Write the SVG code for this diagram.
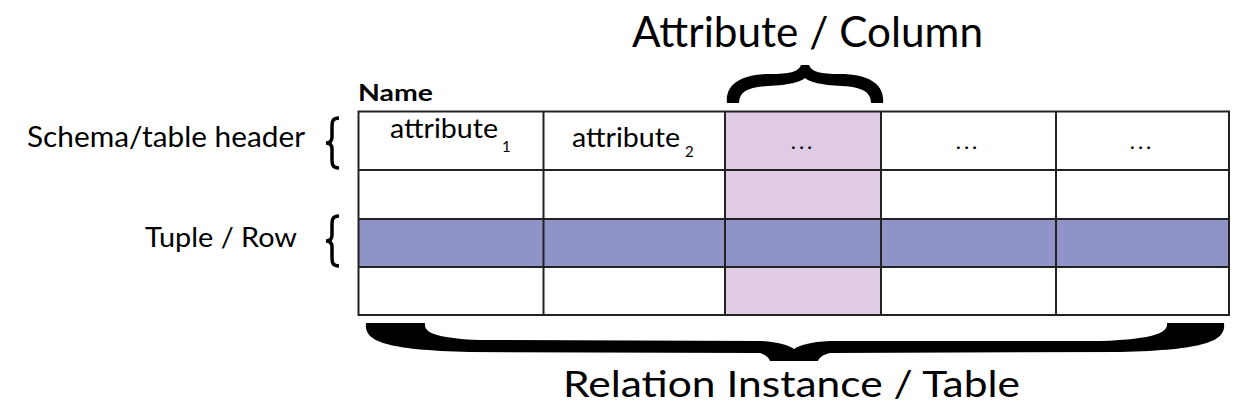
<svg xmlns="http://www.w3.org/2000/svg" width="1245" height="406" viewBox="0 0 1245 406">
<style>
.lbl{font-family:Lato,"Open Sans","Liberation Sans",sans-serif;fill:#000}
.grid{stroke:#222;stroke-width:2;fill:none}
.brace{fill:#000}
.sbrace{fill:none;stroke:#000;stroke-width:3.5}
</style>
<rect width="1245" height="406" fill="#fff"/>
<g id="table">
  <rect x="725" y="111.5" width="156" height="203.5" fill="#dfcbe4"/>
  <rect x="358.5" y="219" width="870.5" height="48" fill="#8f93c6"/>
  <g class="grid">
    <rect x="358.5" y="111.5" width="870.5" height="203.5"/>
    <line x1="358.5" y1="170" x2="1229" y2="170"/>
    <line x1="358.5" y1="219" x2="1229" y2="219"/>
    <line x1="358.5" y1="267" x2="1229" y2="267"/>
    <line x1="543.5" y1="111.5" x2="543.5" y2="315"/>
    <line x1="725" y1="111.5" x2="725" y2="315"/>
    <line x1="881" y1="111.5" x2="881" y2="315"/>
    <line x1="1056" y1="111.5" x2="1056" y2="315"/>
  </g>
  <text class="lbl" x="358" y="101" font-size="23" font-weight="bold" textLength="75" lengthAdjust="spacingAndGlyphs">Name</text>
  <text class="lbl" x="390" y="138" font-size="27" textLength="108" lengthAdjust="spacingAndGlyphs">attribute</text>
  <text class="lbl" x="502" y="152" font-size="15">1</text>
  <text class="lbl" x="572" y="147" font-size="27" textLength="108" lengthAdjust="spacingAndGlyphs">attribute</text>
  <text class="lbl" x="685" y="157" font-size="15">2</text>
  <text class="lbl" x="803" y="149" font-size="22" text-anchor="middle" letter-spacing="3">...</text>
  <text class="lbl" x="968" y="149" font-size="22" text-anchor="middle" letter-spacing="3">...</text>
  <text class="lbl" x="1142" y="149" font-size="22" text-anchor="middle" letter-spacing="3">...</text>
</g>
<g id="column-label">
  <path class="brace" d="M727 103 C725 85 740 74 770 74 C790 74 798 72 801 65 L809 65 C812 72 820 74 840 74 C870 74 885 85 883 103 L871 103 C871 92 862 87 842 86 C820 85 810 82 805 78 C800 82 790 85 768 86 C748 87 739 92 739 103 Z"/>
  <text class="lbl" x="632" y="47" font-size="42" textLength="351" lengthAdjust="spacingAndGlyphs">Attribute / Column</text>
</g>
<g id="table-label">
  <path class="brace" d="M366 323 C364 340 380 350 470 352 L760 353 C766 355 769 358 770 361 L818 361 C819 358 822 355 830 353 L1120 352 C1210 350 1226 340 1224 323 L1167 323 C1168 331 1160 339 1100 341 L830 341 C810 342 800 345 794 349 C788 345 778 342 760 341 L480 340 C430 338 424 331 425 323 Z"/>
  <text class="lbl" x="563" y="397" font-size="37" textLength="457" lengthAdjust="spacingAndGlyphs">Relation Instance / Table</text>
</g>
<g id="schema-label">
  <path class="sbrace" d="M339 118 C332 118 332 122 332 128 L332 137 C332 141 330 143 326 143 C330 143 332 145 332 149 L332 158 C332 164 332 168 339 168"/>
  <text class="lbl" x="27" y="147" font-size="28" textLength="278" lengthAdjust="spacingAndGlyphs">Schema/table header</text>
</g>
<g id="row-label">
  <path class="sbrace" d="M339 216 C332 216 332 220 332 226 L332 235 C332 239 330 241 326 241 C330 241 332 243 332 247 L332 256 C332 262 332 266 339 266"/>
  <text class="lbl" x="145" y="247" font-size="27" textLength="152" lengthAdjust="spacingAndGlyphs">Tuple / Row</text>
</g>
</svg>
